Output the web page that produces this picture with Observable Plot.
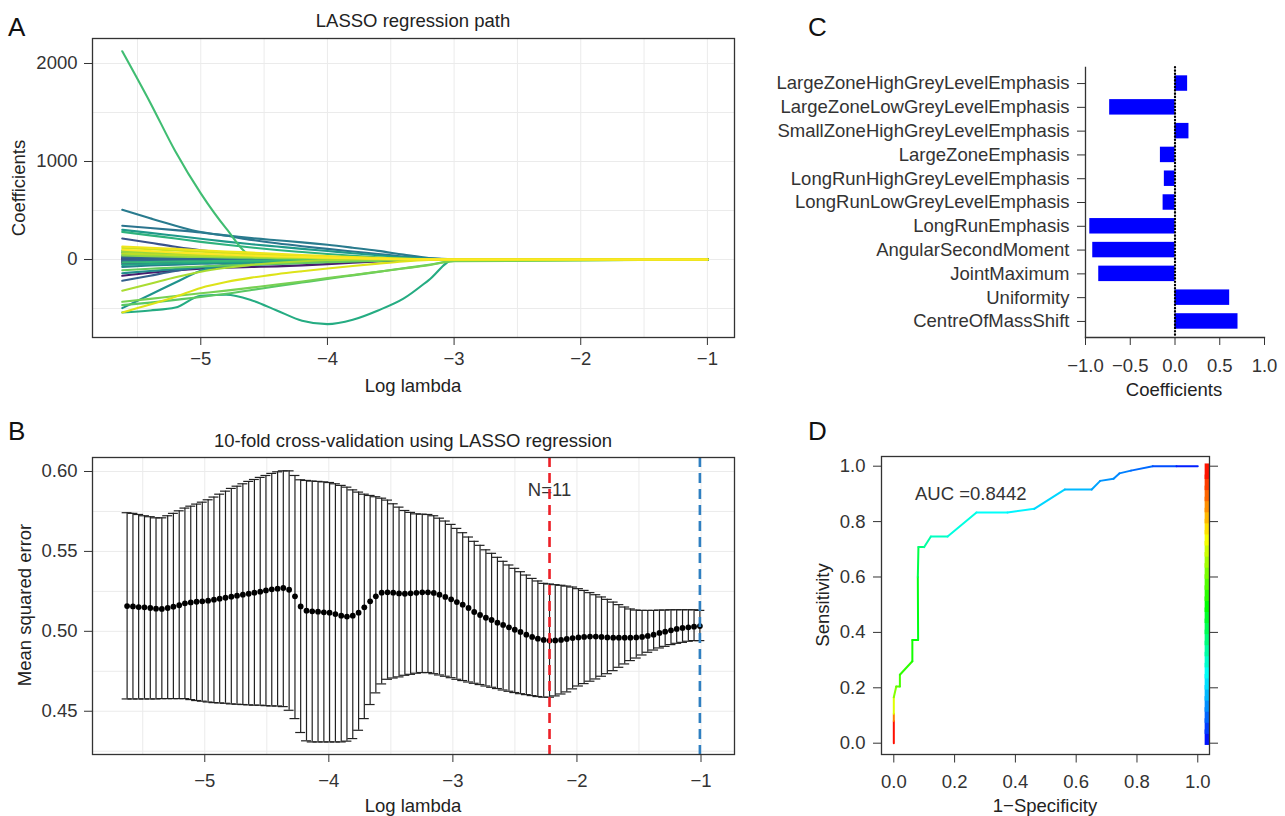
<!DOCTYPE html>
<html>
<head>
<meta charset="utf-8">
<script src="https://cdn.jsdelivr.net/npm/d3@7"></script>
<script src="https://cdn.jsdelivr.net/npm/@observablehq/plot@0.6"></script>
<style>
html,body{margin:0;padding:0;background:#fff;}
#fig{position:relative;width:1285px;height:816px;overflow:hidden;background:#fff;}
</style>
</head>
<body>
<div id="fig"></div>
<script>
// ---------------- Panel A: LASSO coefficient paths ----------------
const pathKnots = [-5.62, -5.4, -5.2, -5.0, -4.8, -4.6, -4.4, -4.2, -4.0, -3.8, -3.6, -3.4, -3.2, -3.0, -1.0];
const pathVars = [1,2,3,4,5,6,7,8,9,10,11,12,13,14,15,16,17,18,19,20,21,22,23,24,25,26,27,28,29,30,31,32,33,34,35,36,37,38,39,40];
const pathValues = [
  [-25,-20,-16,-13,-10,-8,-6,-5,-3,-2,-1,0,0,0,0],
  [12,10,8,6,5,4,3,2,1,1,0,0,0,0,0],
  [-30,-25,-21,-17,-14,-11,-9,-7,-5,-3,-2,-1,0,0,0],
  [-166,-135,-112,-95,-85,-77,-70,-60,-47,-33,-20,-7,0,0,0],
  [5,4,3,3,2,2,1,1,0,0,0,0,0,0,0],
  [-8,-7,-6,-5,-4,-3,-2,-2,-1,-1,0,0,0,0,0],
  [30,25,21,17,14,11,9,7,5,3,2,1,0,0,0],
  [0,-1,-2,-2,-2,-2,-2,-1,-1,-1,0,0,0,0,0],
  [-45,-37,-30,-25,-20,-16,-12,-9,-6,-4,-2,-1,0,0,0],
  [18,15,13,11,9,7,6,4,3,2,1,0,0,0,0],
  [214,170,130,95,70,50,35,22,12,5,1,0,0,0,0],
  [-15,-13,-11,-9,-7,-6,-5,-4,-3,-2,-1,0,0,0,0],
  [-217,-165,-118,-80,-55,-36,-22,-12,-5,-1,0,0,0,0,0],
  [20,17,14,12,10,8,6,5,3,2,1,0,0,0,0],
  [-10,-9,-8,-7,-6,-5,-4,-3,-2,-1,0,0,0,0,0],
  [344,322,300,276,242,200,165,135,108,82,56,30,10,2,0],
  [507,420,345,280,246,218,196,175,150,120,88,50,15,3,0],
  [-75,-62,-52,-44,-37,-31,-26,-21,-16,-12,-8,-4,-1,0,0],
  [70,60,51,44,37,31,26,21,16,11,7,3,1,0,0],
  [-140,-118,-98,-82,-68,-56,-45,-35,-26,-18,-11,-5,-1,0,0],
  [-496,-360,-235,-115,-55,-28,-12,-4,0,0,0,0,0,0,0],
  [303,272,242,212,182,156,132,108,86,64,43,23,8,1,0],
  [45,38,32,27,22,18,14,11,8,5,3,1,0,0,0],
  [-55,-46,-39,-33,-28,-23,-19,-15,-11,-8,-5,-2,0,0,0],
  [-541,-520,-490,-370,-360,-415,-520,-625,-660,-615,-520,-400,-210,0,0],
  [282,246,214,180,150,122,97,76,56,38,23,11,3,0,0],
  [-30,-25,-21,-18,-15,-12,-10,-8,-6,-4,-2,-1,0,0,0],
  [2125,1603,1102,675,318,40,10,0,0,0,0,0,0,0,0],
  [90,77,65,55,46,38,31,24,18,12,7,3,1,0,0],
  [-466,-440,-412,-383,-350,-312,-272,-235,-198,-162,-126,-90,-54,-15,0],
  [-110,-95,-82,-71,-61,-52,-44,-36,-28,-21,-14,-7,-2,0,0],
  [-432,-402,-372,-345,-318,-287,-256,-224,-190,-158,-125,-92,-58,-18,0],
  [40,34,29,25,21,17,14,11,8,5,3,1,0,0,0],
  [80,70,60,52,44,37,30,23,17,12,7,3,1,0,0],
  [-319,-248,-182,-125,-85,-55,-34,-18,-7,-1,0,0,0,0,0],
  [60,52,45,39,33,28,22,17,12,8,5,2,0,0,0],
  [118,105,92,80,68,57,46,36,27,19,12,6,2,0,0],
  [-541,-460,-380,-290,-230,-185,-150,-120,-92,-66,-42,-20,-5,0,0],
  [133,120,108,95,82,70,58,46,35,25,16,8,2,0,0],
  [100,85,72,60,50,40,32,25,18,12,7,3,1,0,0]
];
const ticksXA = [-5, -4, -3, -2, -1];
const ticksYA = [0, 1000, 2000];
const gridXA = [-5.5, -5, -4.5, -4, -3.5, -3, -2.5, -2, -1.5, -1];
const gridYA = [-500, 0, 500, 1000, 1500, 2000];

// ---------------- Panel B: 10-fold cross-validation ----------------
const logLambda = [-5.626,-5.579,-5.533,-5.486,-5.439,-5.393,-5.346,-5.299,-5.253,-5.206,
  -5.160,-5.113,-5.066,-5.020,-4.973,-4.926,-4.880,-4.833,-4.786,-4.740,
  -4.693,-4.646,-4.600,-4.553,-4.507,-4.460,-4.413,-4.367,-4.320,-4.273,
  -4.227,-4.180,-4.134,-4.087,-4.040,-3.994,-3.947,-3.900,-3.854,-3.807,
  -3.760,-3.714,-3.667,-3.621,-3.574,-3.527,-3.481,-3.434,-3.387,-3.341,
  -3.294,-3.247,-3.201,-3.154,-3.108,-3.061,-3.014,-2.968,-2.921,-2.874,
  -2.828,-2.781,-2.734,-2.688,-2.641,-2.595,-2.548,-2.501,-2.455,-2.408,
  -2.361,-2.315,-2.268,-2.221,-2.175,-2.128,-2.082,-2.035,-1.988,-1.942,
  -1.895,-1.848,-1.802,-1.755,-1.708,-1.662,-1.615,-1.569,-1.522,-1.475,
  -1.429,-1.382,-1.335,-1.289,-1.242,-1.196,-1.149,-1.102,-1.056,-1.009];
const cvMean = [0.5158,0.5156,0.5152,0.5150,0.5146,0.5142,0.5140,0.5146,0.5154,0.5163,
  0.5175,0.5181,0.5185,0.5188,0.5192,0.5198,0.5204,0.5210,0.5217,0.5223,
  0.5229,0.5235,0.5242,0.5248,0.5256,0.5263,0.5267,0.5271,0.5260,0.5219,
  0.5156,0.5129,0.5125,0.5123,0.5119,0.5117,0.5108,0.5098,0.5092,0.5098,
  0.5117,0.5150,0.5188,0.5219,0.5242,0.5244,0.5242,0.5237,0.5235,0.5238,
  0.5241,0.5244,0.5244,0.5240,0.5229,0.5215,0.5200,0.5183,0.5167,0.5146,
  0.5121,0.5102,0.5085,0.5071,0.5054,0.5040,0.5025,0.5010,0.4996,0.4979,
  0.4965,0.4954,0.4946,0.4942,0.4943,0.4946,0.4952,0.4958,0.4962,0.4965,
  0.4967,0.4967,0.4965,0.4962,0.4960,0.4960,0.4960,0.4960,0.4962,0.4965,
  0.4971,0.4979,0.4990,0.4998,0.5006,0.5015,0.5021,0.5025,0.5029,0.5033];
const cvUpper = [0.5742,0.5738,0.5731,0.5723,0.5717,0.5710,0.5710,0.5723,0.5738,0.5754,
  0.5771,0.5783,0.5796,0.5808,0.5823,0.5840,0.5858,0.5877,0.5894,0.5908,
  0.5923,0.5938,0.5950,0.5963,0.5975,0.5988,0.5998,0.6004,0.6004,0.5975,
  0.5948,0.5944,0.5940,0.5938,0.5935,0.5931,0.5923,0.5913,0.5902,0.5885,
  0.5871,0.5858,0.5850,0.5842,0.5833,0.5821,0.5798,0.5777,0.5756,0.5744,
  0.5735,0.5733,0.5731,0.5723,0.5708,0.5690,0.5669,0.5644,0.5617,0.5590,
  0.5563,0.5538,0.5510,0.5488,0.5463,0.5438,0.5415,0.5394,0.5373,0.5352,
  0.5331,0.5315,0.5300,0.5296,0.5292,0.5288,0.5283,0.5277,0.5267,0.5256,
  0.5242,0.5229,0.5215,0.5200,0.5183,0.5167,0.5152,0.5140,0.5133,0.5131,
  0.5131,0.5131,0.5133,0.5133,0.5135,0.5135,0.5135,0.5135,0.5135,0.5131];
const cvLower = [0.4577,0.4577,0.4577,0.4577,0.4577,0.4577,0.4579,0.4579,0.4579,0.4579,
  0.4579,0.4573,0.4567,0.4563,0.4558,0.4554,0.4552,0.4550,0.4546,0.4544,
  0.4542,0.4540,0.4538,0.4538,0.4535,0.4533,0.4533,0.4529,0.4506,0.4454,
  0.4367,0.4315,0.4308,0.4308,0.4308,0.4308,0.4308,0.4308,0.4313,0.4329,
  0.4381,0.4454,0.4542,0.4615,0.4671,0.4700,0.4708,0.4715,0.4725,0.4731,
  0.4738,0.4742,0.4742,0.4735,0.4727,0.4719,0.4710,0.4700,0.4692,0.4683,
  0.4675,0.4667,0.4658,0.4650,0.4642,0.4633,0.4625,0.4617,0.4610,0.4604,
  0.4598,0.4592,0.4588,0.4588,0.4596,0.4608,0.4621,0.4640,0.4658,0.4673,
  0.4688,0.4702,0.4719,0.4735,0.4754,0.4775,0.4796,0.4817,0.4833,0.4852,
  0.4869,0.4883,0.4896,0.4906,0.4917,0.4925,0.4931,0.4938,0.4942,0.4942];
const minIndex = 73;   // lambda.min
const seIndex = 99;    // largest lambda shown (blue line)
const ticksXB = [-5, -4, -3, -2, -1];
const ticksYB = [0.45, 0.50, 0.55, 0.60];
const gridXB = [-5.5, -5, -4.5, -4, -3.5, -3, -2.5, -2, -1.5, -1];
const gridYB = [0.425, 0.45, 0.475, 0.50, 0.525, 0.55, 0.575, 0.60];

// ---------------- Panel C: selected features ----------------
const featureNames = ["LargeZoneHighGreyLevelEmphasis","LargeZoneLowGreyLevelEmphasis","SmallZoneHighGreyLevelEmphasis",
  "LargeZoneEmphasis","LongRunHighGreyLevelEmphasis","LongRunLowGreyLevelEmphasis","LongRunEmphasis",
  "AngularSecondMoment","JointMaximum","Uniformity","CentreOfMassShift"];
const featureCoefs = [0.141, -0.730, 0.156, -0.163, -0.119, -0.133, -0.952, -0.919, -0.852, 0.611, 0.704];
const ticksXC = [-1.0, -0.5, 0.0, 0.5, 1.0];

// ---------------- Panel D: ROC curve ----------------
const rocFpr = [0, 0, 0, 0, 0.008, 0.020, 0.020, 0.061, 0.061, 0.080, 0.079, 0.081, 0.100, 0.122, 0.177, 0.272, 0.374, 0.462, 0.563, 0.651, 0.679, 0.723, 0.742, 0.780, 0.852, 0.930, 1.0];
const rocTpr = [0, 0.080, 0.106, 0.166, 0.205, 0.205, 0.247, 0.296, 0.373, 0.373, 0.600, 0.708, 0.708, 0.746, 0.746, 0.833, 0.833, 0.846, 0.916, 0.916, 0.947, 0.955, 0.974, 0.984, 1.0, 1.0, 1.0];
const rocCutoff = [1.0, 0.97, 0.78, 0.66, 0.60, 0.58, 0.56, 0.53, 0.51, 0.50, 0.46, 0.40, 0.36, 0.32, 0.30, 0.26, 0.25, 0.23, 0.19, 0.17, 0.15, 0.14, 0.13, 0.12, 0.09, 0.06, 0.0];
const auc = 0.8442;
const colorbarLevels = [0, 0.04, 0.08, 0.12, 0.16, 0.20, 0.24, 0.28, 0.32, 0.36, 0.40, 0.44, 0.48, 0.52, 0.56, 0.60, 0.64, 0.68, 0.72, 0.76, 0.80, 0.84, 0.88, 0.92, 0.96, 1.0];
const colorbarX = 1.03;
const ticksD = [0, 0.2, 0.4, 0.6, 0.8, 1.0];

// ================= drawing =================
const FONT = '"Liberation Sans", Arial, Helvetica, sans-serif';
const fig = document.getElementById("fig");
const baseStyle = {fontFamily: FONT, fontSize: "18.5px", color: "#333", background: "transparent", overflow: "visible"};
const minus = d => d < 0 ? "\u2212" + Math.abs(d) : String(d);
const fmt1 = d3.format(".1f");
const gridStyle = {stroke: "#ebebeb", strokeOpacity: 1, strokeWidth: 1};
function place(svg, left, top) {
  svg.style.position = "absolute";
  svg.style.left = left + "px";
  svg.style.top = top + "px";
  svg.style.maxWidth = "none";
  fig.appendChild(svg);
}

// Panel A
const pathRows = [];
pathVars.forEach((v, j) => pathKnots.forEach((k, i) => pathRows.push({logLambda: k, coef: pathValues[j][i], variable: v})));
place(Plot.plot({
  width: 770, height: 410,
  marginLeft: 92, marginRight: 36, marginTop: 38, marginBottom: 73,
  x: {domain: [-5.855, -0.786], label: null},
  y: {domain: [-796, 2255], label: null},
  color: {type: "linear", scheme: "viridis", domain: [1, 40]},
  style: baseStyle,
  marks: [
    Plot.gridX(gridXA, gridStyle),
    Plot.gridY(gridYA, gridStyle),
    Plot.line(pathRows, {x: "logLambda", y: "coef", z: "variable", stroke: "variable", strokeWidth: 2.1, curve: "monotone-x"}),
    Plot.frame({stroke: "#333", strokeWidth: 1.3}),
    Plot.axisX(ticksXA, {tickSize: 8, tickPadding: 6, tickFormat: minus, label: null}),
    Plot.axisY(ticksYA, {tickSize: 8, tickPadding: 7, tickFormat: d => String(d), label: null})
  ]
}), 0, 0);

// Panel B
const cvRows = logLambda.map((x, i) => ({x, mean: cvMean[i], up: cvUpper[i], lo: cvLower[i]}));
const capHalf = 0.04;
place(Plot.plot({
  width: 770, height: 406,
  marginLeft: 92, marginRight: 36, marginTop: 47, marginBottom: 62,
  x: {domain: [-5.905, -0.73], label: null},
  y: {domain: [0.42294, 0.60875], label: null},
  style: baseStyle,
  marks: [
    Plot.gridX(gridXB, gridStyle),
    Plot.gridY(gridYB, gridStyle),
    Plot.ruleX(cvRows, {x: "x", y1: "lo", y2: "up", stroke: "#222", strokeWidth: 1.2}),
    Plot.ruleY(cvRows, {y: "up", x1: d => d.x - capHalf, x2: d => d.x + capHalf, stroke: "#222", strokeWidth: 1.2}),
    Plot.ruleY(cvRows, {y: "lo", x1: d => d.x - capHalf, x2: d => d.x + capHalf, stroke: "#222", strokeWidth: 1.2}),
    Plot.dot(cvRows, {x: "x", y: "mean", r: 2.9, fill: "#000", stroke: null}),
    Plot.text([`N=${featureNames.length}`], {x: () => logLambda[minIndex], text: d => d, frameAnchor: "top", dy: 25, fontSize: 18.5, fill: "#333"}),
    Plot.ruleX([logLambda[minIndex]], {stroke: "#ec2027", strokeWidth: 2.6, strokeDasharray: "10,6"}),
    Plot.ruleX([logLambda[seIndex]], {stroke: "#2f7fc1", strokeWidth: 2.6, strokeDasharray: "10,6"}),
    Plot.frame({stroke: "#333", strokeWidth: 1.3}),
    Plot.axisX(ticksXB, {tickSize: 8, tickPadding: 11, tickFormat: minus, label: null}),
    Plot.axisY(ticksYB, {tickSize: 8, tickPadding: 7, tickFormat: d3.format(".2f"), label: null})
  ]
}), 0, 410);

// Panel C
const featRows = featureNames.map((f, i) => ({feature: f, coef: featureCoefs[i]}));
place(Plot.plot({
  width: 515, height: 410,
  marginLeft: 315, marginRight: 21, marginTop: 67, marginBottom: 73,
  x: {domain: [-1, 1], label: null},
  y: {domain: featureNames, padding: 0.35, round: false, label: null},
  style: baseStyle,
  marks: [
    Plot.barX(featRows, {x: "coef", y: "feature", fill: "#0000ff"}),
    Plot.ruleX([0], {stroke: "#000", strokeWidth: 2.2, strokeDasharray: "0.5,2.8", strokeLinecap: "round"}),
    Plot.frame({anchor: "left", stroke: "#333", strokeWidth: 1.3}),
    Plot.frame({anchor: "bottom", stroke: "#333", strokeWidth: 1.3}),
    Plot.axisY({tickSize: 8, tickPadding: 8, label: null}),
    Plot.axisX(ticksXC, {tickSize: 8, tickPadding: 13, tickFormat: fmt1, label: null})
  ]
}), 770, 0);

// Panel D
const rainbow = t => d3.hsl((1 - t) * 240, 1, 0.5).formatHex();
const rocRows = rocFpr.map((f, i) => ({f, t: rocTpr[i], c: rocCutoff[i]}));
const rocSegs = d3.pairs(rocRows).map(([a, b]) => ({x1: a.f, y1: a.t, x2: b.f, y2: b.t, c: (a.c + b.c) / 2}));
const barSegs = d3.pairs(colorbarLevels).map(([a, b]) => ({y1: a, y2: b, c: (a + b) / 2}));
place(Plot.plot({
  width: 515, height: 406,
  marginLeft: 111, marginRight: 76, marginTop: 46, marginBottom: 62,
  x: {domain: [-0.0405, 1.0386], label: null},
  y: {domain: [-0.0408, 1.035], label: null},
  color: {type: "linear", domain: [0, 1], interpolate: rainbow},
  style: baseStyle,
  marks: [
    Plot.link(rocSegs, {x1: "x1", y1: "y1", x2: "x2", y2: "y2", stroke: "c", strokeWidth: 2, strokeLinecap: "round"}),
    Plot.ruleX(barSegs, {x: () => colorbarX, y1: "y1", y2: "y2", stroke: "c", strokeWidth: 4.5, strokeLinecap: "square"}),
    Plot.frame({stroke: "#333", strokeWidth: 1.3}),
    Plot.axisX(ticksD, {tickSize: 8.5, tickPadding: 12, tickFormat: fmt1, label: null}),
    Plot.axisY(ticksD, {tickSize: 8, tickPadding: 8, tickFormat: fmt1, label: null}),
    Plot.axisY(ticksD, {anchor: "right", tickSize: 8, tickFormat: () => "", label: null})
  ]
}), 770, 410);

// Titles, axis titles and panel letters
const overlay = d3.select(fig).append("svg")
  .attr("width", 1285).attr("height", 816)
  .style("position", "absolute").style("left", "0px").style("top", "0px")
  .style("pointer-events", "none")
  .style("font-family", FONT);
function label(text, x, y, opts = {}) {
  const t = overlay.append("text")
    .attr("x", x).attr("y", y)
    .attr("text-anchor", opts.anchor || "middle")
    .attr("dominant-baseline", "central")
    .attr("font-size", opts.size || 18.5)
    .attr("fill", opts.fill || "#222")
    .text(text);
  if (opts.rotate) t.attr("transform", `rotate(-90 ${x} ${y})`);
}
label("A", 8, 27, {anchor: "start", size: 26, fill: "#111"});
label("B", 8, 431, {anchor: "start", size: 26, fill: "#111"});
label("C", 808, 27, {anchor: "start", size: 26, fill: "#111"});
label("D", 808, 431, {anchor: "start", size: 26, fill: "#111"});
label("LASSO regression path", 413, 20.5);
label("Coefficients", 18, 188, {rotate: true});
label("Log lambda", 413, 385);
label("10-fold cross-validation using LASSO regression", 413, 440.5);
label("Mean squared error", 24, 605, {rotate: true});
label("Log lambda", 413, 805);
label("Coefficients", 1174, 389);
label("Sensitivity", 822, 605, {rotate: true});
label("1\u2212Specificity", 1045, 805);
label(`AUC =${auc}`, 915, 493, {anchor: "start", fill: "#333"});
</script>
</body>
</html>
